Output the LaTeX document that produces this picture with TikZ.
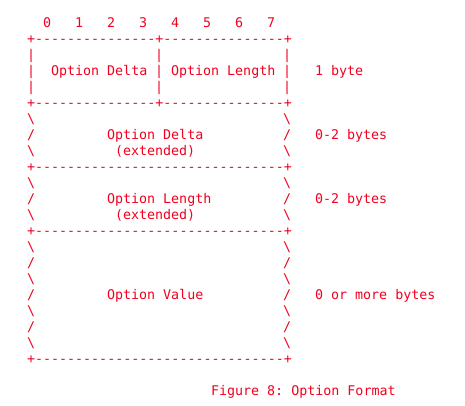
\documentclass[tikz,border=0pt]{standalone}
\usepackage{fontspec}
\newfontfamily\asciifont{DejaVu Sans Mono}[Ligatures=TeXOff]
\definecolor{rfcred}{RGB}{242,0,30}
\newcommand{\wallchar}[1]{\ifodd#1 /\else\textbackslash\fi}

\begin{document}
\begin{tikzpicture}[x=6pt,y=-12pt,
  ascii/.style={anchor=base west,inner sep=0pt,outer sep=0pt,text=rfcred,
    font=\asciifont\fontsize{10}{12}\selectfont\frenchspacing},
  rule/.style={ascii}]
    \useasboundingbox (-0.375,-1.75) rectangle (57.75,23.625);
    % Bit numbers
    \foreach \b in {0,...,7}
      \node[ascii] (bit\b) at (5+4*\b,0) {\b};
    % First byte
    \node[rule] (top) at (3,1) {+---------------+---------------+};
    \foreach \r in {2,3,4} {
      \node[ascii] (left\r) at (3,\r) {|};
      \node[ascii] (mid\r) at (19,\r) {|};
      \node[ascii] (right\r) at (35,\r) {|};
    }
    \node[ascii] (delta) at (6,3) {Option Delta};
    \node[ascii] (length) at (21,3) {Option Length};
    \node[ascii] (onebyte) at (39,3) {1 byte};
    \node[rule] (sepa) at (3,5) {+---------------+---------------+};
    % Extended fields and value
    \foreach \r in {6,7,8,10,11,12,14,15,16,17,18,19,20} {
      \node[ascii] (wl\r) at (3,\r) {\wallchar{\r}};
      \node[ascii] (wr\r) at (35,\r) {\wallchar{\r}};
    }
    \node[ascii] (deltaext) at (13,7) {Option Delta};
    \node[ascii] (deltanote) at (14,8) {(extended)};
    \node[ascii] (deltasize) at (39,7) {0-2 bytes};
    \node[rule] (sepb) at (3,9) {+-------------------------------+};
    \node[ascii] (lengthext) at (13,11) {Option Length};
    \node[ascii] (lengthnote) at (14,12) {(extended)};
    \node[ascii] (lengthsize) at (39,11) {0-2 bytes};
    \node[rule] (sepc) at (3,13) {+-------------------------------+};
    \node[ascii] (value) at (13,17) {Option Value};
    \node[ascii] (valuesize) at (39,17) {0 or more bytes};
    \node[rule] (bottom) at (3,21) {+-------------------------------+};
    % Caption
    \node[ascii] (caption) at (26,23) {Figure 8: Option Format};
\end{tikzpicture}
\end{document}
